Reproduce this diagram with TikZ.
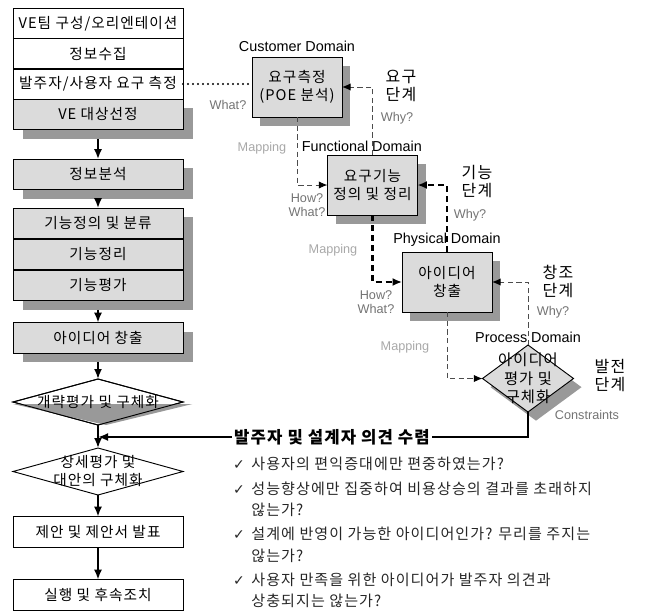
\documentclass[tikz,border=0pt]{standalone}
\usepackage{fontspec}
\setmainfont[LetterSpace=7]{Noto Sans CJK KR}
\newfontfamily\latin{Liberation Sans}
\newfontfamily\symb{DejaVu Sans}
\usepackage{tikz}
\usetikzlibrary{shapes,arrows}
\usetikzlibrary{arrows.meta}
\usetikzlibrary{shadows}
\usetikzlibrary{positioning}
\definecolor{boxgray}{gray}{0.86}
\definecolor{shadowgray}{gray}{0.6}
\definecolor{hintgray}{gray}{0.45}
\definecolor{mapgray}{gray}{0.66}
\newcommand{\chk}{{\symb\fontsize{10.5pt}{10pt}\selectfont ✓}}

\begin{document}
\begin{tikzpicture}[x=0.75pt,y=-0.75pt]

\tikzstyle{every node}=[font=\fontsize{11pt}{13.5pt}\selectfont, outer sep=0pt]
\tikzstyle{stage}=[rectangle, draw, line width=0.7pt, minimum width=127.5pt, minimum height=23pt, inner sep=0pt]
\tikzstyle{shadowbox}=[fill=boxgray, drop shadow={shadow xshift=7.5pt, shadow yshift=-6.75pt, fill=shadowgray, opacity=1}]
\tikzstyle{decide}=[diamond, draw, line width=0.7pt, minimum width=127.5pt, inner sep=0pt]
\tikzstyle{domainbox}=[rectangle, draw, line width=0.7pt, fill=boxgray, minimum width=67.5pt, minimum height=45pt, inner sep=0pt, align=center, font=\fontsize{11pt}{14pt}\selectfont, drop shadow={shadow xshift=6pt, shadow yshift=-6.75pt, fill=shadowgray, opacity=1}]
\tikzstyle{domname}=[font=\latin\fontsize{10.8pt}{12pt}\selectfont, inner sep=1pt]
\tikzstyle{hint}=[font=\latin\fontsize{9.5pt}{11pt}\selectfont, text=hintgray, align=center]
\tikzstyle{mapname}=[hint, text=mapgray]
\tikzstyle{phaselbl}=[font=\fontsize{12pt}{13.5pt}\selectfont, align=center]
\tikzstyle{flow}=[line width=1.4pt, -{Latex[length=7.5pt,width=6pt]}]
\tikzstyle{mapline}=[line width=0.75pt, draw=black!70, dash pattern=on 4pt off 2.5pt, -{Latex[length=6.5pt,width=5.5pt,color=black]}]
\tikzstyle{maplinebold}=[line width=1.6pt, dash pattern=on 4.5pt off 3pt, -{Latex[length=7pt,width=6pt]}]
\tikzstyle{dotline}=[line width=1.7pt, line cap=round, dash pattern=on 0pt off 3.75pt]

\useasboundingbox (0,0) rectangle (645,614);

% VE job plan
\node[stage] (b1) at (98,23.5) {VE팀 구성/오리엔테이션};
\node[stage] (b2) at (98,54) {정보수집};
\node[stage] (b3) at (98,84) {발주자/사용자 요구 측정};
\node[stage, shadowbox] (b4) at (98,114.5) {VE 대상선정};
\node[stage, shadowbox] (info) at (98,174.5) {정보분석};
\node[stage, shadowbox] (f1) at (98,223.5) {기능정의 및 분류};
\node[stage, shadowbox] (f2) at (98,254.5) {기능정리};
\node[stage, shadowbox] (f3) at (98,285.5) {기능평가};
\node[stage, shadowbox] (idea) at (98,338) {아이디어 창출};
\node[decide, minimum height=34.5pt] (d1) at (98,402) {};
\fill[shadowgray] ([yshift=-1.5pt]d1.west) -- ([xshift=7pt,yshift=-1.5pt]d1.east)
	-- ([xshift=6pt]d1.south) -- cycle;
\draw[line width=0.7pt] (d1.north) -- (d1.east) -- (d1.south) -- (d1.west) -- cycle;
\node (d1txt) at (d1) {개략평가 및 구체화};
\node[decide, minimum height=35.25pt, fill=white] (d2) at (98,471.5) {};
\node[align=center] (d2txt) at (d2) {상세평가 및\\대안의 구체화};
\node[stage] (prop) at (98,532) {제안 및 제안서 발표};
\node[stage] (exec) at (98,595) {실행 및 후속조치};

\draw[flow, shorten <=6.75pt] (b4) -- (info);
\draw[flow, shorten <=6.75pt] (info) -- (f1);
\draw[flow, shorten <=6.75pt] (f3) -- (idea);
\draw[flow, shorten <=6.75pt] (idea) -- (d1);
\draw[flow] (d1) -- (d2);
\draw[flow] (d2) -- (prop);
\draw[flow] (prop) -- (exec);

% domains
\node[domainbox] (cust) at (297,87) {요구측정\\(POE 분석)};
\node[domainbox] (func) at (372.5,185) {요구기능\\정의 및 정리};
\node[domainbox] (phys) at (447,282) {아이디어\\창출};
\node[diamond, draw, line width=0.7pt, fill=boxgray, minimum width=68.25pt,
	minimum height=50.25pt, inner sep=0pt,
	drop shadow={shadow xshift=6pt, shadow yshift=-6.5pt, fill=shadowgray, opacity=1}]
	(proc) at (528,378.5) {};
\node[align=center, font=\fontsize{11.5pt}{13.8pt}\selectfont] (proctxt) at (proc) {아이디어\\평가 및\\구체화};

\node[domname, above=3pt of cust] (custname) {Customer Domain};
\node[domname, above=1.5pt of func, xshift=-8pt] (funcname) {Functional Domain};
\node[domname, above=3pt of phys] (physname) {Physical Domain};
\node[domname, above=0.5pt of proc] (procname) {Process Domain};

\draw[dotline] (b3.east) -- (b3.east -| cust.west);
\draw[mapline] (cust.south) |- (func.west);
\draw[mapline] (func.north) |- (cust.east);
\draw[maplinebold] (func.south) |- (phys.west);
\draw[maplinebold] (phys.north) |- (func.east);
\draw[mapline] (phys.south) |- (proc.west);
\draw[mapline] (proc.north) |- (phys.east);

\node[hint] (what1) at (228,105) {What?};
\node[hint] (hw2) at (307,205) {How?\\What?};
\node[hint] (hw3) at (376,302) {How?\\What?};
\node[mapname] (map1) at (262,148) {Mapping};
\node[mapname] (map2) at (333,250) {Mapping};
\node[mapname] (map3) at (405,347) {Mapping};
\node[hint] (why1) at (397,118) {Why?};
\node[hint] (why2) at (470,215) {Why?};
\node[hint] (why3) at (553,312) {Why?};
\node[hint] (cons) at (587,415) {Constraints};

\node[phaselbl] (ph1) at (401,86) {요구\\단계};
\node[phaselbl] (ph2) at (477,182) {기능\\단계};
\node[phaselbl] (ph3) at (558,281) {창조\\단계};
\node[phaselbl] (ph4) at (610,376) {발전\\단계};

% owner / designer feedback
\coordinate (merge) at (98,437);
\draw[flow] (proc.south) |- (merge);
\node[fill=white, inner sep=2pt, font=\bfseries\fontsize{12.5pt}{15pt}\selectfont]
	(opinion) at (332,437) {발주자 및 설계자 의견 수렴};

\node[anchor=north west, inner sep=0pt, text=black!85,
	font=\fontsize{11.3pt}{16pt}\selectfont] (checks) at (233,455) {%
\begin{tabular}{@{}l@{\hspace{5pt}}l@{}}
\chk & 사용자의 편익증대에만 편중하였는가?\\[2.25pt]
\chk & 성능향상에만 집중하여 비용상승의 결과를 초래하지\\
 & 않는가?\\[2.25pt]
\chk & 설계에 반영이 가능한 아이디어인가? 무리를 주지는\\
 & 않는가?\\[2.25pt]
\chk & 사용자 만족을 위한 아이디어가 발주자 의견과\\
 & 상충되지는 않는가?
\end{tabular}};
\end{tikzpicture}
\end{document}
